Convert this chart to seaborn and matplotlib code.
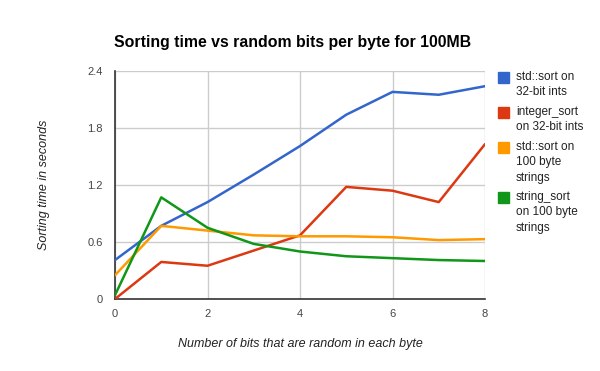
import matplotlib
matplotlib.use("Agg")
import matplotlib.pyplot as plt
from matplotlib.patches import Rectangle
import seaborn as sns
import pandas as pd

bits = [0, 1, 2, 3, 4, 5, 6, 7, 8]
std_sort_ints = [0.41, 0.77, 1.02, 1.31, 1.61, 1.94, 2.18, 2.15, 2.24]
integer_sort_ints = [0.0, 0.39, 0.35, 0.51, 0.67, 1.18, 1.14, 1.02, 1.63]
std_sort_strings = [0.25, 0.77, 0.72, 0.67, 0.66, 0.66, 0.65, 0.62, 0.63]
string_sort_strings = [0.04, 1.07, 0.75, 0.58, 0.50, 0.45, 0.43, 0.41, 0.40]

series_names = ["std::sort on\n32-bit ints", "integer_sort\non 32-bit ints",
                "std::sort on\n100 byte\nstrings", "string_sort\non 100 byte\nstrings"]
colors = ["#3366cc", "#dc3912", "#ff9900", "#109618"]
y_ticks = [0, 0.6, 1.2, 1.8, 2.4]
y_tick_labels = ["0", "0.6", "1.2", "1.8", "2.4"]
x_ticks = [0, 2, 4, 6, 8]

rows = []
for name, vals in zip(series_names, [std_sort_ints, integer_sort_ints, std_sort_strings, string_sort_strings]):
    for b, v in zip(bits, vals):
        rows.append({"bits": b, "time": v, "series": name})
df = pd.DataFrame(rows)

sns.set_theme(style="white")
plt.rcParams["font.family"] = ["Liberation Sans", "DejaVu Sans"]

fig = plt.figure(figsize=(6, 3.71), dpi=100)
ax = fig.add_axes([115/600, 1 - 299/371, 370/600, 228/371])

sns.lineplot(data=df, x="bits", y="time", hue="series", palette=colors,
             hue_order=series_names, linewidth=1.8, legend=False, ax=ax, zorder=3)

ax.set_xlim(0, 8)
ax.set_ylim(0, 2.4)
ax.set_xticks(x_ticks)
ax.set_yticks(y_ticks)
ax.set_yticklabels(y_tick_labels)
ax.grid(True, color="#cccccc", linewidth=1)
ax.set_axisbelow(True)
for s in ["top", "right"]:
    ax.spines[s].set_visible(False)
for s in ["left", "bottom"]:
    ax.spines[s].set_color("#333333")
    ax.spines[s].set_linewidth(1.2)
ax.tick_params(axis="x", length=0, labelsize=8, colors="#444444", pad=7)
ax.tick_params(axis="y", length=0, labelsize=8, colors="#444444", pad=9)
ax.set_xlabel("Number of bits that are random in each byte", fontsize=9,
              style="italic", color="#222222", labelpad=14)
ax.set_ylabel("Sorting time in seconds", fontsize=9, style="italic",
              color="#222222", labelpad=27)

fig.text(292.5/600, 1 - 43/371, "Sorting time vs random bits per byte for 100MB",
         ha="center", va="center", fontsize=11.4, fontweight="bold", color="#000000")

# legend
leg_y = [77, 112, 147, 197]
line_gap = 15.3
for name, c, yy in zip(series_names, colors, leg_y):
    fig.patches.append(Rectangle((498/600, 1 - (yy + 5.5)/371), 11/600, 11/371,
                                 transform=fig.transFigure, color=c))
    for i, line in enumerate(name.split("\n")):
        fig.text(516/600, 1 - (yy + i * line_gap)/371, line, ha="left", va="center",
                 fontsize=8.5, color="#222222")

fig.savefig("out.png", dpi=100)
